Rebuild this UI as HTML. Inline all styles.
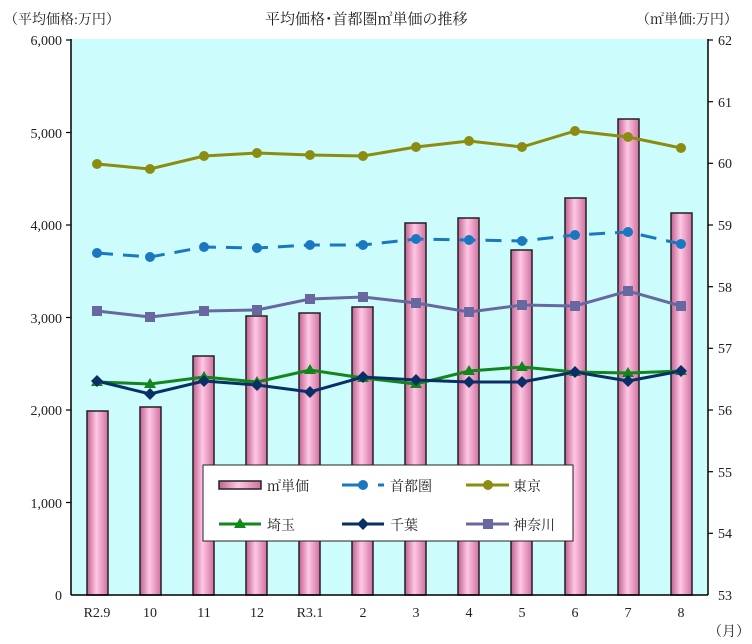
<!DOCTYPE html><html><head><meta charset="utf-8"><style>body{margin:0;background:#fff}svg{display:block}text{font-family:"Liberation Serif","Noto Serif CJK SC",serif;font-size:14px;fill:#222}</style></head><body>
<svg width="752" height="644" xmlns="http://www.w3.org/2000/svg">
<defs><linearGradient id="g" x1="0" x2="1"><stop offset="0" stop-color="#c06090"/><stop offset="0.45" stop-color="#ffc8e4"/><stop offset="1" stop-color="#d070a0"/></linearGradient></defs>
<rect x="71" y="39" width="637" height="556" fill="#ccfcfc"/>
<text x="4" y="24">（平均価格:万円）</text>
<text x="265" y="24" style="font-size:15px">平均価格･首都圏㎡単価の推移</text>
<text x="636" y="24">（㎡単価:万円）</text>
<g id="bars" stroke="#222" stroke-width="1.5" fill="url(#g)">
<rect x="87" y="411" width="21" height="184"/><rect x="140" y="407" width="21" height="188"/><rect x="193" y="356" width="21" height="239"/><rect x="246" y="316" width="21" height="279"/><rect x="299" y="313" width="21" height="282"/><rect x="352" y="307" width="21" height="288"/><rect x="405" y="223" width="21" height="372"/><rect x="458" y="218" width="21" height="377"/><rect x="511" y="250" width="21" height="345"/><rect x="565" y="198" width="21" height="397"/><rect x="618" y="119" width="21" height="476"/><rect x="671" y="213" width="21" height="382"/>
</g>
<g stroke="#000" stroke-width="1.5"><line x1="71" y1="39" x2="71" y2="595"/><line x1="708" y1="39" x2="708" y2="595"/><line x1="71" y1="595" x2="708" y2="595"/></g>
<g stroke="#000" stroke-width="1.2">
<line x1="66" y1="40" x2="71" y2="40"/><line x1="66" y1="132.5" x2="71" y2="132.5"/><line x1="66" y1="225" x2="71" y2="225"/><line x1="66" y1="317.5" x2="71" y2="317.5"/><line x1="66" y1="410" x2="71" y2="410"/><line x1="66" y1="502.5" x2="71" y2="502.5"/>
<line x1="708" y1="40" x2="713" y2="40"/><line x1="708" y1="101.7" x2="713" y2="101.7"/><line x1="708" y1="163.3" x2="713" y2="163.3"/><line x1="708" y1="225" x2="713" y2="225"/><line x1="708" y1="286.7" x2="713" y2="286.7"/><line x1="708" y1="348.3" x2="713" y2="348.3"/><line x1="708" y1="410" x2="713" y2="410"/><line x1="708" y1="471.7" x2="713" y2="471.7"/><line x1="708" y1="533.3" x2="713" y2="533.3"/>
</g>
<g text-anchor="end"><text x="62" y="45">6,000</text><text x="62" y="138">5,000</text><text x="62" y="230">4,000</text><text x="62" y="323">3,000</text><text x="62" y="415">2,000</text><text x="62" y="508">1,000</text><text x="62" y="600">0</text></g>
<g><text x="718" y="45">62</text><text x="718" y="107">61</text><text x="718" y="168">60</text><text x="718" y="230">59</text><text x="718" y="292">58</text><text x="718" y="353">57</text><text x="718" y="415">56</text><text x="718" y="477">55</text><text x="718" y="538">54</text><text x="718" y="600">53</text></g>
<g text-anchor="middle"><text x="97" y="617">R2.9</text><text x="150" y="617">10</text><text x="204" y="617">11</text><text x="257" y="617">12</text><text x="310" y="617">R3.1</text><text x="363" y="617">2</text><text x="416" y="617">3</text><text x="469" y="617">4</text><text x="522" y="617">5</text><text x="575" y="617">6</text><text x="628" y="617">7</text><text x="681" y="617">8</text></g>
<text x="708" y="636">（月）</text>
<g fill="none" stroke-width="3">
<polyline stroke="#8c8c10" points="97,164 150,169 204,156 257,153 310,155 363,156 416,147 469,141 522,147 575,131 628,137 681,148"/>
<polyline stroke="#1a78c0" stroke-dasharray="16,10" points="97,253 150,257 204,247 257,248 310,245 363,245 416,239 469,240 522,241 575,235 628,232 681,244"/>
<polyline stroke="#6868a0" points="97,311 150,317 204,311 257,310 310,299 363,297 416,303 469,312 522,305 575,306 628,291 681,306"/>
<polyline stroke="#10861c" points="97,382 150,384 204,377 257,382 310,370 363,378 416,384 469,371 522,367 575,372 628,373 681,371"/>
<polyline stroke="#0a2f66" points="97,381 150,394 204,381 257,385 310,392 363,377 416,380 469,382 522,382 575,372 628,381 681,371"/>
</g>
<g fill="#8c8c10"><circle cx="97" cy="164" r="5"/><circle cx="150" cy="169" r="5"/><circle cx="204" cy="156" r="5"/><circle cx="257" cy="153" r="5"/><circle cx="310" cy="155" r="5"/><circle cx="363" cy="156" r="5"/><circle cx="416" cy="147" r="5"/><circle cx="469" cy="141" r="5"/><circle cx="522" cy="147" r="5"/><circle cx="575" cy="131" r="5"/><circle cx="628" cy="137" r="5"/><circle cx="681" cy="148" r="5"/></g>
<g fill="#1a78c0"><circle cx="97" cy="253" r="5"/><circle cx="150" cy="257" r="5"/><circle cx="204" cy="247" r="5"/><circle cx="257" cy="248" r="5"/><circle cx="310" cy="245" r="5"/><circle cx="363" cy="245" r="5"/><circle cx="416" cy="239" r="5"/><circle cx="469" cy="240" r="5"/><circle cx="522" cy="241" r="5"/><circle cx="575" cy="235" r="5"/><circle cx="628" cy="232" r="5"/><circle cx="681" cy="244" r="5"/></g>
<g fill="#6868a0"><rect x="92" y="306" width="10" height="10"/><rect x="145" y="312" width="10" height="10"/><rect x="199" y="306" width="10" height="10"/><rect x="252" y="305" width="10" height="10"/><rect x="305" y="294" width="10" height="10"/><rect x="358" y="292" width="10" height="10"/><rect x="411" y="298" width="10" height="10"/><rect x="464" y="307" width="10" height="10"/><rect x="517" y="300" width="10" height="10"/><rect x="570" y="301" width="10" height="10"/><rect x="623" y="286" width="10" height="10"/><rect x="676" y="301" width="10" height="10"/></g>
<g fill="#10861c"><path d="M97,376l6,10h-12z"/><path d="M150,378l6,10h-12z"/><path d="M204,371l6,10h-12z"/><path d="M257,376l6,10h-12z"/><path d="M310,364l6,10h-12z"/><path d="M363,372l6,10h-12z"/><path d="M416,378l6,10h-12z"/><path d="M469,365l6,10h-12z"/><path d="M522,361l6,10h-12z"/><path d="M575,366l6,10h-12z"/><path d="M628,367l6,10h-12z"/><path d="M681,365l6,10h-12z"/></g>
<g fill="#0a2f66"><path d="M97,375l6,6l-6,6l-6,-6z"/><path d="M150,388l6,6l-6,6l-6,-6z"/><path d="M204,375l6,6l-6,6l-6,-6z"/><path d="M257,379l6,6l-6,6l-6,-6z"/><path d="M310,386l6,6l-6,6l-6,-6z"/><path d="M363,371l6,6l-6,6l-6,-6z"/><path d="M416,374l6,6l-6,6l-6,-6z"/><path d="M469,376l6,6l-6,6l-6,-6z"/><path d="M522,376l6,6l-6,6l-6,-6z"/><path d="M575,366l6,6l-6,6l-6,-6z"/><path d="M628,375l6,6l-6,6l-6,-6z"/><path d="M681,365l6,6l-6,6l-6,-6z"/></g>
<rect x="203" y="465" width="370" height="76" fill="#fff" stroke="#222" stroke-width="1"/>
<rect x="219" y="481" width="42" height="8" fill="url(#g)" stroke="#222" stroke-width="1.5"/>
<text x="267" y="491">㎡単価</text>
<line x1="342" y1="485" x2="366" y2="485" stroke="#1a78c0" stroke-width="3"/><circle cx="363" cy="485" r="5" fill="#1a78c0"/><line x1="378" y1="485" x2="384" y2="485" stroke="#1a78c0" stroke-width="3"/>
<text x="390" y="491">首都圏</text>
<line x1="466" y1="485" x2="509" y2="485" stroke="#8c8c10" stroke-width="3"/><circle cx="488" cy="485" r="5" fill="#8c8c10"/>
<text x="513" y="491">東京</text>
<line x1="219" y1="524" x2="261" y2="524" stroke="#10861c" stroke-width="3"/><path d="M240,518l6,10h-12z" fill="#10861c"/>
<text x="267" y="530">埼玉</text>
<line x1="342" y1="524" x2="384" y2="524" stroke="#0a2f66" stroke-width="3"/><path d="M363,518l6,6l-6,6l-6,-6z" fill="#0a2f66"/>
<text x="390" y="530">千葉</text>
<line x1="466" y1="524" x2="509" y2="524" stroke="#6868a0" stroke-width="3"/><rect x="483" y="519" width="10" height="10" fill="#6868a0"/>
<text x="513" y="530">神奈川</text>
</svg></body></html>
